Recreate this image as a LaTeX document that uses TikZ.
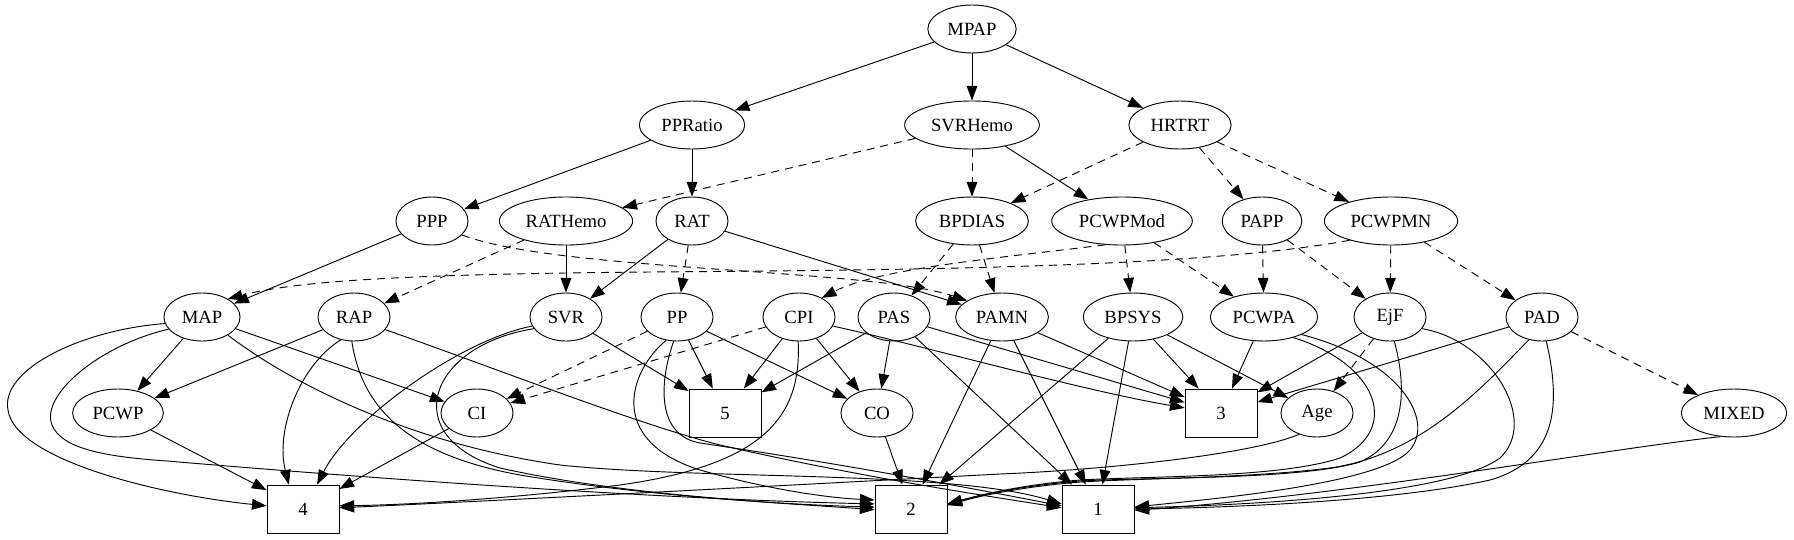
\documentclass[tikz,border=0pt]{standalone}
\usepackage{fontspec}
\setmainfont{Liberation Serif}
\usetikzlibrary{shapes.geometric,arrows.meta}
\tikzset{
  nd/.style={ellipse, draw, line width=0.7pt, inner xsep=5pt, inner ysep=1pt, minimum width=54pt, minimum height=36pt, font=\fontsize{14pt}{16pt}\selectfont},
  bx/.style={rectangle, draw, line width=0.6pt, minimum width=54pt, minimum height=36pt, font=\fontsize{14pt}{16pt}\selectfont},
  ar/.style={-{Triangle[length=11pt,width=8pt]}, line width=0.7pt},
  da/.style={ar, dash pattern=on 6pt off 4.5pt},
}
\begin{document}
\begin{tikzpicture}[x=0.75pt,y=-0.75pt]
\useasboundingbox (0,0) rectangle (1794,539);
% rank 0
\node[nd] (MPAP) at (972,29) {MPAP};
% rank 1
\node[nd] (PPRatio) at (692,125) {PPRatio};
\node[nd] (SVRHemo) at (972,125) {SVRHemo};
\node[nd] (HRTRT) at (1180,125) {HRTRT};
% rank 2
\node[nd] (PPP) at (432,221) {PPP};
\node[nd] (RATHemo) at (566,221) {RATHemo};
\node[nd] (RAT) at (692,221) {RAT};
\node[nd] (BPDIAS) at (972,221) {BPDIAS};
\node[nd] (PCWPMod) at (1122,221) {PCWPMod};
\node[nd] (PAPP) at (1262,221) {PAPP};
\node[nd] (PCWPMN) at (1391,221) {PCWPMN};
% rank 3
\node[nd] (MAP) at (202,317) {MAP};
\node[nd] (RAP) at (354,317) {RAP};
\node[nd] (SVR) at (566,317) {SVR};
\node[nd] (PP) at (677,317) {PP};
\node[nd] (CPI) at (799,317) {CPI};
\node[nd] (PAS) at (894,317) {PAS};
\node[nd] (PAMN) at (1002,317) {PAMN};
\node[nd] (BPSYS) at (1133,317) {BPSYS};
\node[nd] (PCWPA) at (1264,317) {PCWPA};
\node[nd] (EjF) at (1390,317) {EjF};
\node[nd] (PAD) at (1542,317) {PAD};
% rank 4
\node[nd] (PCWP) at (118,413) {PCWP};
\node[nd] (CI) at (477,413) {CI};
\node[bx] (b5) at (725,413) {5};
\node[nd] (CO) at (877,413) {CO};
\node[bx] (b3) at (1221,413) {3};
\node[nd] (Age) at (1317,413) {Age};
\node[nd] (MIXED) at (1734,413) {MIXED};
% rank 5
\node[bx] (b4) at (303,509) {4};
\node[bx] (b2) at (911,509) {2};
\node[bx] (b1) at (1098,509) {1};

% straight solid
\draw[ar] (MPAP) -- (PPRatio);
\draw[ar] (MPAP) -- (SVRHemo);
\draw[ar] (MPAP) -- (HRTRT);
\draw[ar] (PPRatio) -- (PPP);
\draw[ar] (PPRatio) -- (RAT);
\draw[ar] (SVRHemo) -- (PCWPMod);
\draw[ar] (PPP) -- (MAP);
\draw[ar] (RATHemo) -- (SVR);
\draw[ar] (RAT) -- (SVR);
\draw[ar] (RAT) -- (PAMN);
\draw[ar] (MAP) -- (PCWP);
\draw[ar] (MAP) -- (CI);
\draw[ar] (RAP) -- (PCWP);
\draw[ar] (SVR) -- (b5);
\draw[ar] (PP) -- (b5);
\draw[ar] (PP) -- (CO);
\draw[ar] (CPI) -- (b5);
\draw[ar] (CPI) -- (CO);
\draw[ar] (PAS) -- (b5);
\draw[ar] (PAS) -- (CO);
\draw[ar] (PAS) -- (b1);
\draw[ar] (PAS) -- (b3);
\draw[ar] (PAMN) -- (b2);
\draw[ar] (PAMN) -- (b1);
\draw[ar] (PAMN) -- (b3);
\draw[ar] (BPSYS) -- (b3);
\draw[ar] (BPSYS) -- (Age);
\draw[ar] (BPSYS) -- (b2);
\draw[ar] (BPSYS) -- (b1);
\draw[ar] (PCWPA) -- (b3);
\draw[ar] (EjF) -- (b3);
\draw[ar] (PAD) -- (b3);
\draw[ar] (PCWP) -- (b4);
\draw[ar] (CI) -- (b4);
\draw[ar] (CO) -- (b2);

% straight dashed
\draw[da] (SVRHemo) -- (RATHemo);
\draw[da] (SVRHemo) -- (BPDIAS);
\draw[da] (HRTRT) -- (BPDIAS);
\draw[da] (HRTRT) -- (PAPP);
\draw[da] (HRTRT) -- (PCWPMN);
\draw[da] (RATHemo) -- (RAP);
\draw[da] (RAT) -- (PP);
\draw[da] (BPDIAS) -- (PAS);
\draw[da] (BPDIAS) -- (PAMN);
\draw[da] (PCWPMod) -- (BPSYS);
\draw[da] (PCWPMod) -- (PCWPA);
\draw[da] (PAPP) -- (PCWPA);
\draw[da] (PAPP) -- (EjF);
\draw[da] (PCWPMN) -- (EjF);
\draw[da] (PCWPMN) -- (PAD);
\draw[da] (EjF) -- (Age);
\draw[da] (PAD) -- (MIXED);
\draw[da] (PP) -- (CI);
\draw[da] (CPI) -- (CI);

% curved dashed
\draw[da] (PPP.-25) .. controls (560,272) and (870,268) .. (PAMN.155);
\draw[da] (PCWPMod.235) .. controls (1000,258) and (880,268) .. (CPI.40);
\draw[da] (PCWPMN.205) .. controls (1200,268) and (900,270) .. (650,272) .. controls (420,274) and (300,280) .. (MAP.35);

% curved solid
\draw[ar] (MAP.190) .. controls (80,330) and (0,370) .. (8,410) .. controls (15,460) and (160,495) .. (b4.175);
\draw[ar] (MAP.200) .. controls (100,345) and (40,395) .. (52,425) .. controls (62,450) and (110,457) .. (167,461) .. controls (450,485) and (700,500) .. (b2.172);
\draw[ar] (MAP.-35) .. controls (300,390) and (420,445) .. (560,465) .. controls (700,480) and (950,470) .. (b1.172);
\draw[ar] (RAP.240) .. controls (300,365) and (275,430) .. (b4.120);
\draw[ar] (RAP.265) .. controls (362,410) and (410,455) .. (520,475) .. controls (650,497) and (800,505) .. (b2.177);
\draw[ar] (RAP.-22) .. controls (500,370) and (640,425) .. (720,445) .. controls (850,475) and (980,495) .. (b1.178);
\draw[ar] (SVR.195) .. controls (460,340) and (350,420) .. (b4.60);
\draw[ar] (SVR.200) .. controls (430,345) and (395,435) .. (500,468) .. controls (620,495) and (780,503) .. (b2.181);
\draw[ar] (PP.245) .. controls (630,370) and (605,440) .. (700,470) .. controls (770,490) and (830,498) .. (b2.166);
\draw[ar] (PP.262) .. controls (660,380) and (655,435) .. (700,443) .. controls (850,465) and (980,490) .. (b1.175);
\draw[ar] (CPI.268) .. controls (802,420) and (760,465) .. (620,485) .. controls (500,500) and (400,505) .. (b4.5);
\draw[ar] (CPI.-15) .. controls (920,345) and (1080,390) .. (b3.172);
\draw[ar] (Age.230) .. controls (1250,455) and (1100,470) .. (1000,474) .. controls (700,490) and (450,503) .. (b4.2);
\draw[ar] (PCWPA.-35) .. controls (1380,365) and (1400,430) .. (1340,458) .. controls (1280,478) and (1150,476) .. (1080,480) .. controls (1020,485) and (980,495) .. (b2.8);
\draw[ar] (EjF.-80) .. controls (1405,380) and (1410,440) .. (1360,462) .. controls (1300,480) and (1150,477) .. (1080,481) .. controls (1020,486) and (980,495) .. (b2.7);
\draw[ar] (PAD.240) .. controls (1480,390) and (1420,455) .. (1330,468) .. controls (1250,478) and (1150,478) .. (1080,482) .. controls (1020,487) and (980,496) .. (b2.6);
\draw[ar] (PCWPA.-25) .. controls (1400,360) and (1435,420) .. (1410,450) .. controls (1380,485) and (1200,500) .. (b1.3);
\draw[ar] (EjF.-20) .. controls (1490,340) and (1540,420) .. (1500,458) .. controls (1450,495) and (1250,505) .. (b1.2);
\draw[ar] (PAD.-80) .. controls (1560,400) and (1560,460) .. (1490,480) .. controls (1400,500) and (1250,507) .. (b1.0);
\draw[ar] (MIXED.240) .. controls (1600,450) and (1350,495) .. (b1.358);
\end{tikzpicture}
\end{document}
